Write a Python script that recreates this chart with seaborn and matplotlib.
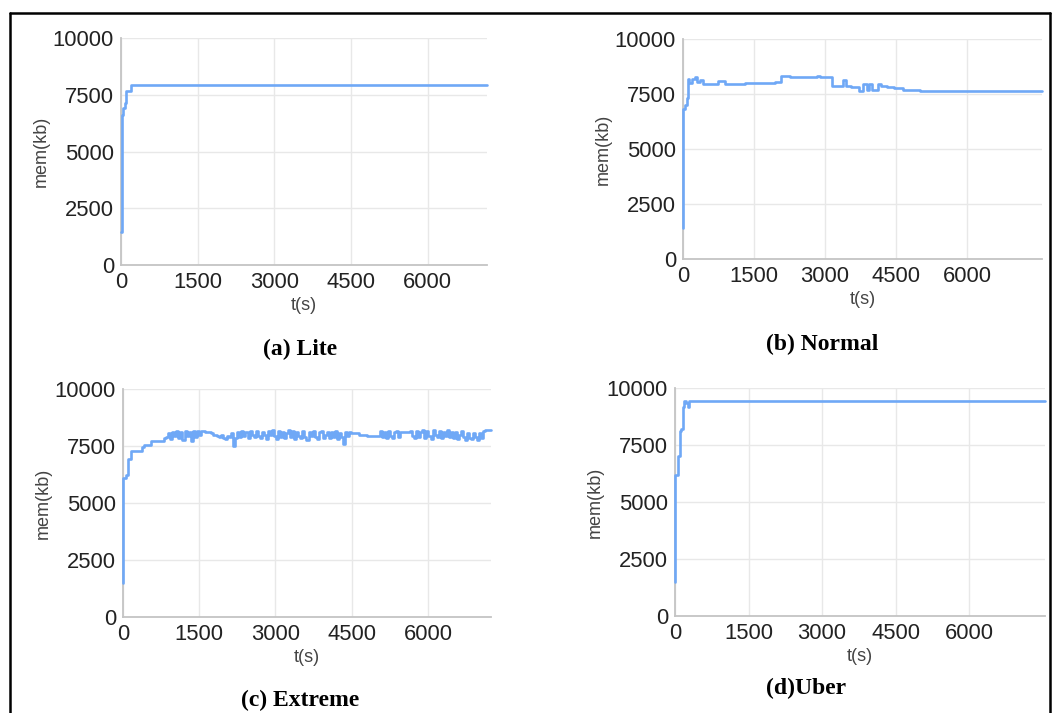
import matplotlib
matplotlib.use("Agg")
import matplotlib.pyplot as plt
from matplotlib.lines import Line2D
import seaborn as sns
import pandas as pd

# ---------------- data ----------------
lite_t = [0, 10, 40, 70, 95, 200, 7160]
lite_mem = [1450, 6600, 6900, 7150, 7650, 7930, 7930]

normal_t = [0, 8, 40, 75, 105, 130, 190, 250, 300, 360, 420, 740, 890, 1000, 1300, 1600,
            1950, 2070, 2260, 2830, 2900, 3140, 3380, 3440, 3550, 3720, 3800, 3880, 3940,
            4000, 4130, 4180, 4300, 4450, 4650, 4800, 5000, 7585]
normal_mem = [1400, 6800, 7000, 7300, 8180, 8000, 8200, 8250, 8060, 8150, 7950, 8080, 7950,
              7960, 7990, 8010, 8030, 8320, 8280, 8320, 8270, 7860, 8120, 7850, 7800, 7620,
              7950, 7680, 7950, 7680, 7950, 7860, 7820, 7760, 7700, 7660, 7620, 7620]

extreme_early_t = [0, 3, 60, 95, 150, 380, 420, 560, 800]
extreme_early_mem = [1480, 6100, 6250, 6950, 7300, 7450, 7550, 7700, 7850]
extreme_noisy_start = 850
extreme_noisy_step = 40
extreme_noisy_mem = [
    7900, 8050, 7800, 8100, 7950, 8150, 7850, 8100, 7750, 8150, 7950, 8100, 7700, 8150, 7900, 8150, 8000, 8150, 8150, 8130,
    8130, 8100, 8050, 8000, 8000, 7950, 7900, 8000, 7850, 7800, 7950, 7900, 8050, 7500, 7850, 8100, 7900, 8150, 7950, 8100,
    7850, 8150, 8000, 7900, 8150, 7950, 7850, 8100, 8000, 7800, 8150, 8000, 8200, 7950, 7800, 8150, 7900, 8100, 7850, 8050,
    8200, 7900, 8150, 7800, 8100, 7950, 7850, 8150, 7900, 7750, 8100, 7950, 8150, 7900, 7800, 8100, 8150, 7850, 8000, 8100,
    7850, 8100, 7900, 8150, 7800, 8050, 7900, 7600, 8100, 7950, 8100, 8080, 8080, 8050, 8050, 8000, 8000, 7980, 7980, 7950,
    7950, 7950, 7950, 7950, 7950, 8150, 7900, 8100, 7850, 8150, 7950, 7850, 8100, 8150, 7900, 8100, 8100, 8100, 8100, 8100,
    8150, 7950, 7850, 8150, 7900, 8100, 8200, 7850, 8150, 7950, 7800, 8200, 8000, 7900, 8150, 7850, 8100, 7950, 8200, 7900,
    8100, 7850, 8100, 7800, 8000, 8150, 7900, 7750, 8050, 7850, 7800, 8050, 7900, 7750, 8050, 7850, 8150, 8200, 8200, 8200,
]
extreme_end_t = 7240

uber_t = [0, 5, 60, 110, 130, 165, 185, 230, 260, 290, 7550]
uber_mem = [1500, 6200, 7000, 8100, 8200, 9150, 9450, 9350, 9150, 9430, 9430]

captions = ["(a) Lite", "(b) Normal", "(c) Extreme", "(d)Uber"]
xticks = [0, 1500, 3000, 4500, 6000]
yticks = [0, 2500, 5000, 7500, 10000]

# build extreme series
extreme_t = list(extreme_early_t) + [extreme_noisy_start + i * extreme_noisy_step
                                     for i in range(len(extreme_noisy_mem))] + [extreme_end_t]
extreme_mem = list(extreme_early_mem) + list(extreme_noisy_mem) + [extreme_noisy_mem[-1]]

series = [(lite_t, lite_mem), (normal_t, normal_mem), (extreme_t, extreme_mem), (uber_t, uber_mem)]
xmax = [lite_t[-1], normal_t[-1], extreme_t[-1], uber_t[-1]]

# ---------------- layout ----------------
W, H = 1052, 713
sns.set_theme(style="whitegrid")
plt.rcParams['font.family'] = ['Liberation Sans', 'DejaVu Sans']

fig = plt.figure(figsize=(W / 100, H / 100), dpi=100)
fig.patch.set_facecolor("white")

# axes boxes in pixel coords: left, right, top, bottom
boxes = [(121, 487, 38, 265), (683, 1042, 39, 259), (123, 491, 389, 617), (675, 1045, 388, 616)]
cap_pos = [(300, 349), (822, 344), (300, 700), (806, 688)]

line_color = "#6fa8f6"
for i, ((t, m), (l, r, tp, b)) in enumerate(zip(series, boxes)):
    ax = fig.add_axes([l / W, (H - b) / H, (r - l) / W, (b - tp) / H])
    df = pd.DataFrame({"t": t, "mem": m})
    sns.lineplot(data=df, x="t", y="mem", ax=ax, estimator=None, sort=False,
                 drawstyle="steps-post", color=line_color, linewidth=1.9,
                 zorder=5, clip_on=False)
    ax.set_xlim(0, xmax[i])
    ax.set_ylim(0, 10000)
    ax.set_xticks(xticks)
    ax.set_yticks(yticks)
    ax.set_xticklabels([str(v) for v in xticks])
    ax.set_yticklabels([str(v) for v in yticks])
    ax.tick_params(axis="both", labelsize=15.8, colors="#222222", length=0, pad=5)
    ax.set_xlabel("t(s)", fontsize=13, color="#444444", labelpad=3)
    ax.set_ylabel("mem(kb)", fontsize=13, color="#444444", labelpad=2)
    ax.grid(True, color="#e8e8e8", linewidth=1.0)
    ax.set_facecolor("white")
    ax.set_axisbelow(True)
    for s in ["top", "right"]:
        ax.spines[s].set_visible(False)
    for s in ["left", "bottom"]:
        ax.spines[s].set_visible(True)
        ax.spines[s].set_color("#c4c4c4")
        ax.spines[s].set_linewidth(1.3)
        ax.spines[s].set_zorder(2)
    cx, cy = cap_pos[i]
    fig.text(cx / W, (H - cy) / H, captions[i], ha="center", va="center",
             fontsize=17, fontweight="bold", family=["Liberation Serif", "DejaVu Serif"],
             color="black")

# outer border (top, left, right)
fig.add_artist(Line2D([10 / W, 1050 / W], [(H - 13) / H, (H - 13) / H], color="black", linewidth=1.8))
fig.add_artist(Line2D([10 / W, 10 / W], [0, (H - 13) / H], color="black", linewidth=1.8))
fig.add_artist(Line2D([1050 / W, 1050 / W], [0, (H - 13) / H], color="black", linewidth=1.8))

fig.savefig("out.png", dpi=100, facecolor="white")
